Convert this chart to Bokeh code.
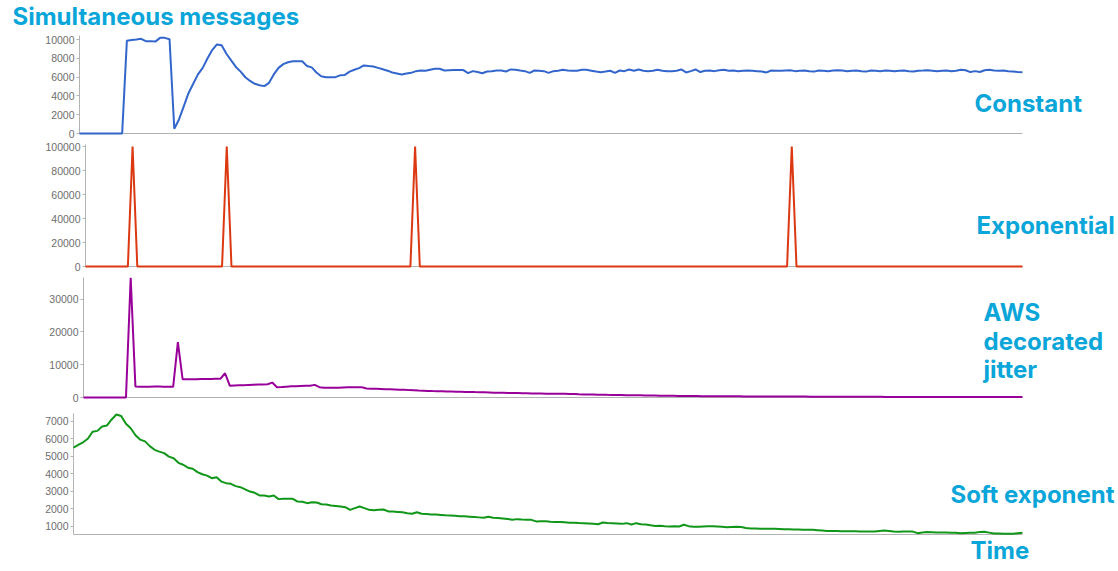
from bokeh.plotting import figure
from bokeh.models import Range1d, FixedTicker, Label, BasicTickFormatter, LinearAxis
from bokeh.embed import file_html
from bokeh.resources import INLINE

time_index = list(range(200))

constant = [
    0, 0, 0, 0, 0, 0, 0, 0, 0, 0,
    9900, 9980, 10030, 10100, 9850, 9850, 9800, 10200, 10200, 10050,
    500, 1500, 2900, 4300, 5300, 6300, 7000, 8000, 8900, 9500,
    9400, 8500, 7800, 7100, 6600, 6000, 5600, 5300, 5150, 5050,
    5400, 6300, 7000, 7400, 7600, 7700, 7700, 7700, 7200, 7050,
    6500, 6100, 6000, 6000, 6010, 6200, 6250, 6600, 6800, 6970,
    7260, 7200, 7150, 7000, 6850, 6700, 6500, 6400, 6300, 6400,
    6470, 6650, 6720, 6700, 6800, 6900, 6900, 6720, 6750, 6760,
    6760, 6760, 6430, 6650, 6550, 6430, 6610, 6650, 6720, 6720,
    6610, 6830, 6800, 6720, 6650, 6470, 6720, 6690, 6650, 6470,
    6650, 6700, 6790, 6720, 6690, 6700, 6790, 6790, 6700, 6600,
    6540, 6600, 6690, 6470, 6720, 6650, 6830, 6690, 6830, 6690,
    6650, 6700, 6790, 6700, 6650, 6650, 6700, 6830, 6510, 6650,
    6830, 6550, 6700, 6720, 6650, 6750, 6800, 6700, 6720, 6650,
    6700, 6720, 6700, 6650, 6600, 6510, 6720, 6700, 6690, 6720,
    6750, 6650, 6700, 6720, 6650, 6600, 6720, 6700, 6650, 6720,
    6750, 6720, 6650, 6700, 6720, 6650, 6600, 6720, 6700, 6650,
    6720, 6700, 6650, 6700, 6720, 6650, 6600, 6700, 6720, 6750,
    6700, 6650, 6700, 6720, 6650, 6700, 6800, 6750, 6550, 6650,
    6560, 6750, 6800, 6720, 6700, 6720, 6650, 6600, 6550, 6540,
]

exp_spike_times = [10, 30, 70, 150]
exp_spike_value = 100000
exponential = [exp_spike_value if t in exp_spike_times else 0 for t in time_index]

aws_jitter = [
    0, 0, 0, 0, 0, 0, 0, 0, 0, 0,
    36500, 3350, 3300, 3250, 3300, 3350, 3350, 3300, 3300, 3250,
    16900, 5600, 5550, 5600, 5600, 5650, 5650, 5650, 5700, 5700,
    7400, 3600, 3650, 3700, 3750, 3850, 3900, 3950, 4000, 4050,
    4550, 3150, 3200, 3300, 3400, 3450, 3500, 3550, 3600, 3850,
    3150, 3000, 2950, 2950, 3000, 3050, 3100, 3150, 3150, 3100,
    2750, 2700, 2650, 2600, 2550, 2500, 2450, 2400, 2350, 2250,
    2200, 2100, 2050, 2000, 1950, 1930, 1900, 1850, 1800, 1750,
    1730, 1700, 1680, 1650, 1630, 1580, 1530, 1480, 1440, 1420,
    1400, 1370, 1340, 1300, 1270, 1240, 1220, 1200, 1180, 1160,
    1140, 1130, 1120, 1080, 1030, 980, 940, 920, 900, 870,
    850, 820, 800, 780, 750, 720, 700, 680, 660, 640,
    620, 600, 560, 530, 520, 500, 480, 460, 440, 430,
    420, 410, 400, 400, 390, 380, 370, 370, 360, 350,
    340, 340, 330, 320, 320, 310, 300, 300, 290, 290,
    280, 280, 270, 270, 260, 260, 250, 250, 240, 240,
    230, 230, 220, 220, 220, 210, 210, 200, 200, 200,
    190, 190, 190, 180, 180, 180, 170, 170, 170, 170,
    160, 160, 160, 160, 150, 150, 150, 150, 150, 140,
    140, 140, 140, 140, 130, 130, 130, 130, 130, 130,
]

soft_exponent = [
    5500, 5650, 5800, 6000, 6400, 6450, 6700, 6750, 7100, 7380,
    7300, 6850, 6600, 6200, 5950, 5850, 5580, 5370, 5270, 5180,
    4980, 4890, 4630, 4520, 4350, 4290, 4100, 3980, 3900, 3750,
    3810, 3560, 3470, 3430, 3300, 3240, 3120, 2990, 2920, 2770,
    2770, 2710, 2770, 2560, 2580, 2580, 2580, 2420, 2410, 2330,
    2380, 2370, 2270, 2250, 2200, 2170, 2140, 2100, 1950, 2050,
    2140, 2050, 1950, 1920, 1950, 1970, 1860, 1850, 1830, 1810,
    1760, 1730, 1810, 1730, 1710, 1690, 1680, 1660, 1640, 1630,
    1610, 1590, 1580, 1560, 1540, 1520, 1500, 1550, 1500, 1480,
    1460, 1430, 1390, 1420, 1400, 1390, 1380, 1290, 1300, 1300,
    1270, 1250, 1260, 1240, 1210, 1220, 1200, 1190, 1170, 1150,
    1130, 1230, 1200, 1190, 1170, 1150, 1190, 1110, 1190, 1130,
    1120, 1070, 1030, 1040, 1010, 1000, 1020, 1000, 1100, 1020,
    980, 990, 1000, 1010, 1020, 1000, 980, 960, 970, 980,
    970, 920, 890, 880, 870, 870, 870, 870, 860, 850,
    840, 830, 830, 820, 810, 810, 790, 770, 750, 750,
    740, 730, 730, 730, 730, 720, 720, 710, 720, 750,
    770, 740, 710, 700, 710, 720, 710, 620, 660, 680,
    670, 660, 660, 660, 650, 640, 620, 630, 640, 650,
    680, 700, 650, 600, 600, 590, 580, 580, 610, 640,
]

constant_ticks = [0, 2000, 4000, 6000, 8000, 10000]
exponential_ticks = [0, 20000, 40000, 60000, 80000, 100000]
aws_ticks = [0, 10000, 20000, 30000]
soft_ticks = [1000, 2000, 3000, 4000, 5000, 6000, 7000]

series_names = ["Constant", "Exponential", "AWS\ndecorated\njitter", "Soft exponent"]
chart_title = "Simultaneous messages"
x_title = "Time"

LABEL_COLOR = "#0aa6d9"
LABEL_FONT = "Inter"
AXIS_COLOR = "#b3b3b3"
TICK_TEXT = "#6e6e6e"

W, H = 1116, 569          # canvas size; the frame covers the whole canvas
PLOT_RIGHT = 1022         # right end of every panel, in canvas pixels
TEXT_SHIFT = 8            # correction between wanted baseline and Bokeh's anchor

p = figure(width=W, height=H, x_range=Range1d(0, 1), y_range=Range1d(0, 1),
           output_backend="svg", toolbar_location=None, title=None,
           x_axis_location=None, y_axis_location=None,
           min_border_left=0, min_border_right=0, min_border_top=0, min_border_bottom=0)
p.outline_line_color = None
p.grid.visible = False
p.background_fill_color = "white"
p.border_fill_color = "white"


def add_panel(name, left, top, bottom, y0, y1, ticks, values, color):
    # x: time index 0..199 spans [left, PLOT_RIGHT]; y: y0..y1 spans [bottom, top]
    sx = 199.0 / (PLOT_RIGHT - left)
    xs = -left * sx
    p.extra_x_ranges[name] = Range1d(xs, xs + W * sx)
    sy = (y1 - y0) / float(bottom - top)
    p.extra_y_ranges[name] = Range1d(y0 - (H - bottom) * sy, y1 + top * sy)

    ya = LinearAxis(x_range_name=name, y_range_name=name, fixed_location=0,
                    bounds=(y0, y1), ticker=FixedTicker(ticks=ticks),
                    formatter=BasicTickFormatter(use_scientific=False))
    ya.level = "underlay"
    ya.axis_line_color = AXIS_COLOR
    ya.major_tick_line_color = AXIS_COLOR
    ya.major_tick_out = 3
    ya.major_tick_in = 0
    ya.minor_tick_line_color = None
    ya.major_label_standoff = 2
    ya.major_label_text_font = "Liberation Sans"
    ya.major_label_text_font_size = "10.5px"
    ya.major_label_text_color = TICK_TEXT
    p.add_layout(ya, "left")

    xa = LinearAxis(x_range_name=name, y_range_name=name, fixed_location=y0,
                    bounds=(0, 199), ticker=FixedTicker(ticks=[]))
    xa.level = "underlay"
    xa.axis_line_color = AXIS_COLOR
    xa.major_tick_line_color = None
    xa.minor_tick_line_color = None
    xa.major_label_text_font_size = "0px"
    p.add_layout(xa, "below")

    p.line(time_index, values, line_color=color, line_width=2,
           x_range_name=name, y_range_name=name)


def add_text(txt, x, baseline):
    p.add_layout(Label(x=x, y=H - baseline + TEXT_SHIFT, x_units="screen", y_units="screen",
                       text=txt, text_font=LABEL_FONT, text_font_size="24px",
                       text_font_style="bold", text_color=LABEL_COLOR,
                       text_baseline="alphabetic", text_align="left"))


add_panel("constant", 79, 35, 133, 0, 10450, constant_ticks, constant, "#3366cc")
add_panel("exponential", 85, 144, 266, 0, 101700, exponential_ticks, exponential, "#dc3912")
add_panel("aws", 83, 277, 397, 0, 36600, aws_ticks, aws_jitter, "#990099")
add_panel("soft", 73, 413, 534, 544, 7440, soft_ticks, soft_exponent, "#109618")

add_text(chart_title, 12, 24)
add_text(series_names[0], 974, 111)
add_text(series_names[1], 976, 233)
aws_lines = series_names[2].split("\n")
add_text(aws_lines[0], 983, 320)
add_text(aws_lines[1], 983, 348.5)
add_text(aws_lines[2], 983, 377)
add_text(series_names[3], 950, 502)
add_text(x_title, 970, 558)

open("out.html", "w").write(file_html(p, INLINE))
